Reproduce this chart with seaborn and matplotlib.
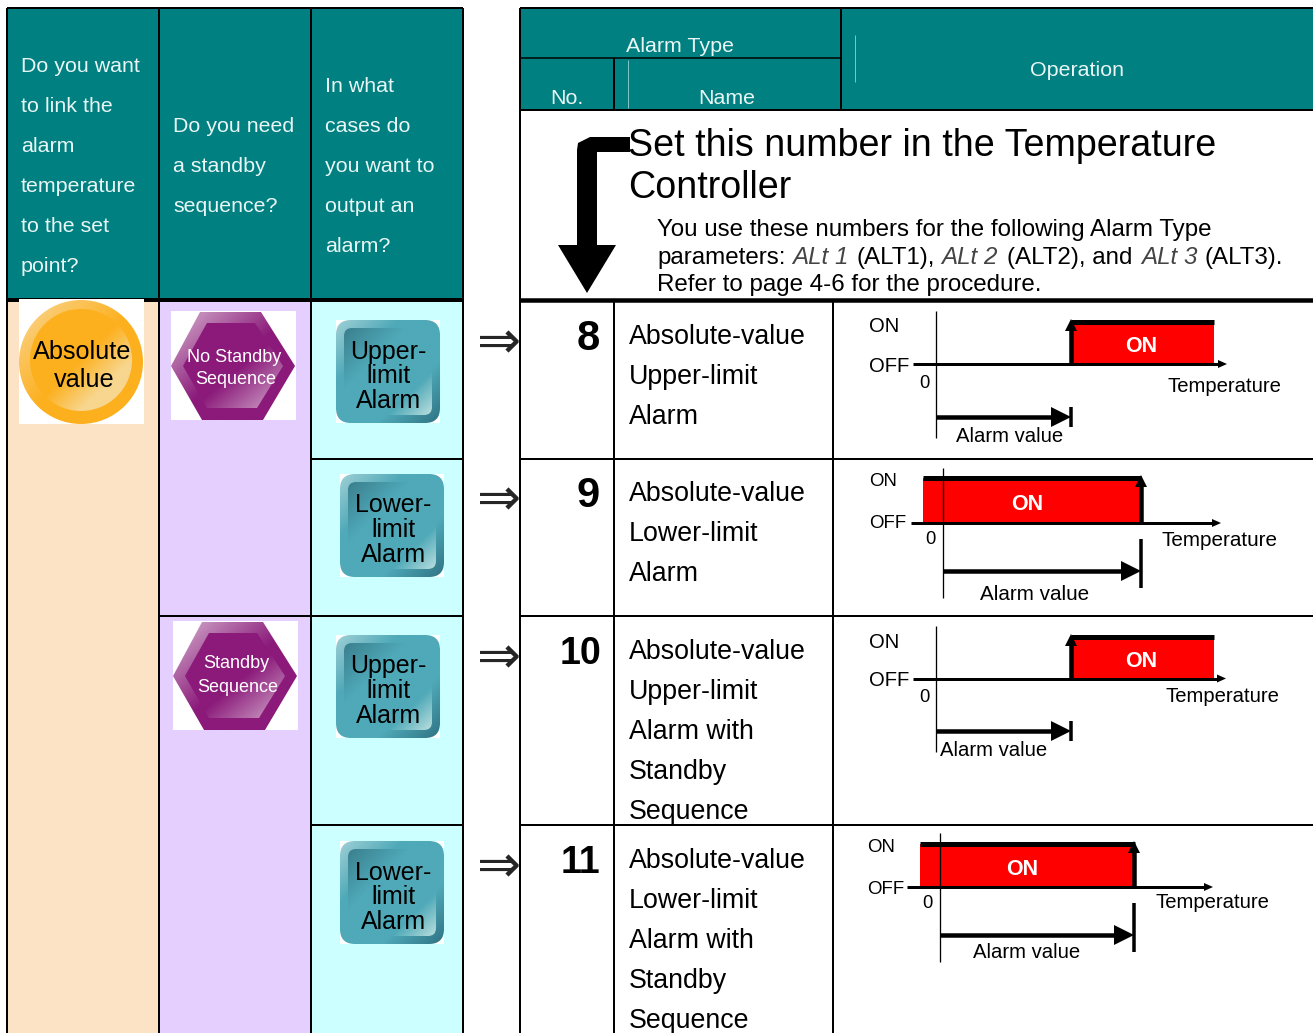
import numpy as np
import matplotlib
matplotlib.use("Agg")
import matplotlib.pyplot as plt
from matplotlib.patches import Rectangle, Polygon, Circle, FancyBboxPatch
from matplotlib.colors import LinearSegmentedColormap
import seaborn as sns

# ---------- content ----------
question_1 = ["Do you want", "to link the", "alarm", "temperature", "to the set", "point?"]
question_2 = ["Do you need", "a standby", "sequence?"]
question_3 = ["In what", "cases do", "you want to", "output an", "alarm?"]
alarm_numbers = ["8", "9", "10", "11"]
alarm_names = [
    ["Absolute-value", "Upper-limit", "Alarm"],
    ["Absolute-value", "Lower-limit", "Alarm"],
    ["Absolute-value", "Upper-limit", "Alarm with", "Standby", "Sequence"],
    ["Absolute-value", "Lower-limit", "Alarm with", "Standby", "Sequence"],
]
alarm_icons = [["Upper-", "limit", "Alarm"], ["Lower-", "limit", "Alarm"],
               ["Upper-", "limit", "Alarm"], ["Lower-", "limit", "Alarm"]]
title_lines = ["Set this number in the Temperature", "Controller"]

# ---------- layout ----------
W, H = 1313, 1033
TEAL = "#008080"
sns.set_theme(style="white")
plt.rcParams["font.family"] = ["Liberation Sans", "DejaVu Sans"]
plt.rcParams["lines.solid_capstyle"] = "butt"
fig = plt.figure(figsize=(W / 100, H / 100), dpi=100, facecolor="white")
ax = fig.add_axes([0, 0, 1, 1])
ax.axis("off")


def rect(x0, y0, x1, y1, color, z=1):
    ax.add_patch(Rectangle((x0, y0), x1 - x0, y1 - y0, fc=color, ec="none", zorder=z))


def seg(x0, y0, x1, y1, lw=2.0, color="black", z=5):
    ax.plot([x0, x1], [y0, y1], color=color, lw=lw * 0.72, zorder=z)


def trace(xs, ys, lw, z=6):
    sns.lineplot(x=xs, y=ys, ax=ax, sort=False, estimator=None, color="black",
                 linewidth=lw * 0.72, zorder=z, legend=False)


def tri(pts, color="black", z=7):
    ax.add_patch(Polygon(pts, closed=True, fc=color, ec="none", zorder=z))


def txt(x, y, s, size, ha="left", color="black", **kw):
    ax.text(x, y + 2, s, fontsize=size, ha=ha, va="center", color=color, zorder=9, **kw)


def grad(patch, colors, z):
    """Diagonal gradient clipped to a patch."""
    ax.add_patch(patch)
    patch.set(fc="none", ec="none", zorder=z)
    bb = patch.get_path().transformed(patch.get_patch_transform()).get_extents()
    n = 120
    u = np.linspace(0, 1, n)
    g = (u[None, :] + u[:, None]) / 2
    cm = LinearSegmentedColormap.from_list("g", colors)
    im = ax.imshow(g, extent=(bb.x0, bb.x1, bb.y1, bb.y0), cmap=cm, vmin=0, vmax=1,
                   aspect="auto", zorder=z, interpolation="bilinear")
    im.set_clip_path(patch)


# backgrounds
rect(8, 8, 463, 298, TEAL)
rect(8, 298, 159, H, "#FDE3C6")
rect(159, 298, 311, H, "#E4CFFF")
rect(311, 298, 463, H, "#CCFFFF")
rect(520, 8, W, 110, TEAL)

# left table rules
for x in (7, 159, 311, 463):
    seg(x, 8, x, H, 2)
seg(7, 8, 463, 8, 2)
seg(7, 299.5, 463, 299.5, 4)
seg(311, 459, 463, 459, 2)
seg(159, 615.5, 463, 615.5, 2)
seg(311, 825, 463, 825, 2)

# right table rules
seg(520, 8, 520, H, 2)
seg(520, 8, W, 8, 2)
seg(520, 58, 840, 58, 1.5)
seg(841, 8, 841, 110, 2)
seg(614, 58, 614, 110, 2)
seg(628, 60, 628, 108, 1, "#7FC4C4")
seg(855, 35, 855, 82, 1, "#7FC4C4")
seg(520, 110, W, 110, 2)
seg(520, 299.5, W, 299.5, 4.5)
seg(614, 300, 614, H, 2)
seg(833, 300, 833, H, 2)
for y in (459, 615.5, 825):
    seg(520, y, W, y, 2)

# header text
HEAD = "#EAF6F6"
for i, s in enumerate(question_1):
    txt(21, 65 + 40 * i, s, 15.4, color=HEAD)
for i, s in enumerate(question_2):
    txt(173, 125 + 40 * i, s, 15.4, color=HEAD)
for i, s in enumerate(question_3):
    txt(325, 85 + 40 * i, s, 15.4, color=HEAD)
txt(680, 45, "Alarm Type", 15.4, ha="center", color=HEAD)
txt(567, 97, "No.", 15.4, ha="center", color=HEAD)
txt(727, 97, "Name", 15.4, ha="center", color=HEAD)
txt(1077, 69, "Operation", 15.4, ha="center", color=HEAD)

# big bent arrow and intro text
ax.add_patch(Polygon([(630, 137), (590, 137), (578, 143), (577, 150), (577, 245), (558, 245),
                      (587, 293), (616, 245), (597, 245), (597, 152), (630, 152)],
                     closed=True, fc="black", ec="none", zorder=7))
txt(628.5, 144, title_lines[0], 27.1)
txt(628.5, 186, title_lines[1], 27.1)
SUB = 17.4
txt(657, 228, "You use these numbers for the following Alarm Type", SUB)
txt(657, 256, "parameters:", SUB)
for x, s in ((792, "ALt 1"), (941, "ALt 2"), (1141, "ALt 3")):
    txt(x, 256, s, SUB, style="italic", color="#444444", fontweight="light")
txt(856, 256, "(ALT1),", SUB)
txt(1007, 256, "(ALT2), and", SUB)
txt(1205, 256, "(ALT3).", SUB)
txt(657, 283, "Refer to page 4-6 for the procedure.", SUB)

# round icon
rect(19, 299, 144, 424, "white", 5.5)
grad(Circle((81, 362), 62), ["#F9D795", "#FDB01E", "#FDB01E"], 6)
grad(Circle((81, 360), 51), [(0, "#FDB01E"), (0.5, "#FDB01E"), (0.75, "#F7D68E"), (1, "#F7D68E")], 6.5)
txt(82, 350, "Absolute", 18.2, ha="center")
txt(84.5, 378, "value", 18.2, ha="center")


# hexagon icons
def hexagon(x0, y0, lines, dy):
    rect(x0, y0, x0 + 125, y0 + 109, "white", 2)
    f = lambda a, b: (x0 + a, y0 + b)
    grad(Polygon([f(0, 55), f(29, 1), f(90, 1), f(124, 55), f(92, 109), f(31, 109)], closed=True),
         ["#D6B3D0", "#8B1A7A", "#8B1A7A"], 3)
    grad(Polygon([f(12, 55), f(36, 12), f(84, 12), f(112, 55), f(86, 97), f(36, 97)], closed=True),
         [(0, "#8B1A7A"), (0.55, "#8B1A7A"), (1, "#D2A8CB")], 4)
    for (s, cx, cy) in zip(lines, (0, 2), dy):
        txt(x0 + 63 + cx, y0 + cy, s, 13.0, ha="center", color="white")


hexagon(171, 311, ["No Standby", "Sequence"], (44, 67))
hexagon(173, 621, ["Standby", "Sequence"], (41, 64))


# rounded square icons
def button(x0, y0, lines, tx):
    rect(x0, y0, x0 + 104, y0 + 103, "white", 2)
    grad(FancyBboxPatch((x0 + 8, y0 + 8), 88, 87, boxstyle="round,pad=0,rounding_size=8", mutation_aspect=1),
         [(0, "#3B7F8E"), (0.35, "#4FA9B8"), (0.75, "#4FA9B8"), (1, "#B8DEDE")], 4)
    grad(FancyBboxPatch((x0, y0), 104, 103, boxstyle="round,pad=0,rounding_size=15", mutation_aspect=1),
         [(0, "#9FD0D6"), (0.3, "#4FA9B8"), (0.7, "#4FA9B8"), (1, "#2F7485")], 3)
    for i, s in enumerate(lines):
        txt(tx, y0 + 29.5 + 24.7 * i, s, 18.0, ha="center")


button(336, 320, alarm_icons[0], 388.5)
button(340, 474, alarm_icons[1], 393.5)
button(336, 635, alarm_icons[2], 388.5)
button(340, 841, alarm_icons[3], 393.5)

# arrows between the tables
for y in (343, 500, 658, 867):
    ax.text(499, y, "\u21d2", fontsize=38, ha="center", va="center", family="DejaVu Sans", zorder=9)

# alarm numbers and names
for s, (x, y), sz in zip(alarm_numbers, ((588, 337), (588, 494), (581, 652), (580, 861)), (30, 30, 27, 27)):
    txt(x, y, s, sz, ha="center", fontweight="bold")
for names, y0 in zip(alarm_names, (335, 492, 650, 859)):
    for i, s in enumerate(names):
        txt(629, y0 + 40 * i, s, 19.25)


# operation diagrams
def diagram(on_y, off_y, off_lab, x_left, x_tip, x_zero, v_top, v_bot, red0, red1, red_top, thr, on_cx,
            temp_x, temp_y, zero_x, zero_y, arrow_y, tick0, tick1, av_x, av_y, lab_x, size, lab_size):
    rect(red0, red_top, red1, off_y, "#FF0000", 5)
    seg(red0, red_top, red1, red_top, 5, z=6)
    trace([x_left, x_tip - 8], [off_y, off_y], 3)
    tri([(x_tip - 9, off_y - 4), (x_tip, off_y), (x_tip - 9, off_y + 4)])
    seg(x_zero, v_top, x_zero, v_bot, 1.3, z=7)
    trace([thr, thr], [off_y, red_top + 5], 4.5)
    tri([(thr - 6, red_top + 9), (thr, red_top - 3), (thr + 6, red_top + 9)])
    trace([x_zero, thr - 15], [arrow_y, arrow_y], 4.5)
    tri([(thr - 20, arrow_y - 10), (thr, arrow_y), (thr - 20, arrow_y + 10)])
    seg(thr, tick0, thr, tick1, 3.5, z=7)
    txt(on_cx, (red_top + off_y) / 2 + 2, "ON", 15.5, ha="center", color="white", fontweight="bold")
    txt(lab_x, on_y - 1, "ON", lab_size)
    txt(lab_x, off_lab - 1, "OFF", lab_size)
    txt(temp_x, temp_y, "Temperature", size)
    txt(zero_x, zero_y, "0", 13.2, ha="center")
    txt(av_x, av_y - 1, "Alarm value", size, ha="center")


diagram(326, 364, 366, 913, 1227, 936, 311, 438, 1071, 1214, 322, 1071, 1141, 1167, 385, 924, 381,
        417, 407, 427, 1010, 436, 869, 14.6, 14.6)
diagram(481, 523, 523, 911, 1221, 943, 468, 598, 923, 1141, 478, 1141, 1027, 1161, 538, 930, 538,
        571, 539, 588, 1035, 594, 869, 14.9, 13.4)
diagram(641, 678.5, 680, 913, 1226, 936, 626, 752, 1071, 1214, 637, 1071, 1141, 1166, 694, 924, 696,
        731, 721, 741, 994, 750, 869, 14.6, 14.6)
diagram(846, 887, 889, 907, 1213, 940, 833, 962, 920, 1135, 844, 1134, 1022, 1155, 900, 927, 902,
        935, 903, 952, 1027, 951, 867, 14.6, 13.4)

ax.set_xlim(0, W)
ax.set_ylim(H, 0)
ax.set_aspect("auto")
fig.savefig("out.png", dpi=100, facecolor="white")
